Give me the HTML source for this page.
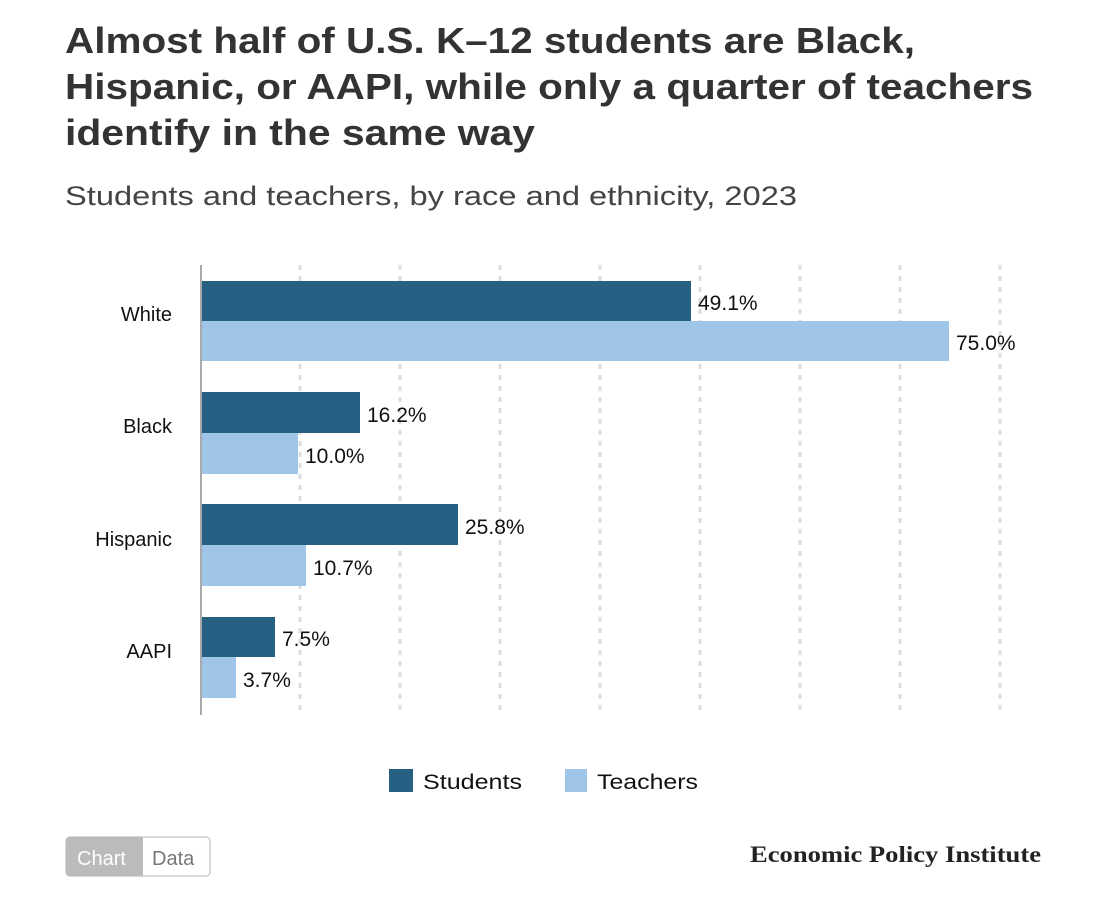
<!DOCTYPE html>
<html><head><meta charset="utf-8"><style>
body{margin:0;background:#fff;width:1113px;height:897px;overflow:hidden;font-family:"Liberation Sans",sans-serif;}
</style></head><body>
<svg width="1113" height="897" xmlns="http://www.w3.org/2000/svg" font-family="Liberation Sans, sans-serif">
<g font-weight="bold" font-size="36" fill="#333">
<text x="65" y="53" textLength="850" lengthAdjust="spacingAndGlyphs">Almost half of U.S. K–12 students are Black,</text>
<text x="65" y="99" textLength="968" lengthAdjust="spacingAndGlyphs">Hispanic, or AAPI, while only a quarter of teachers</text>
<text x="65" y="145" textLength="470" lengthAdjust="spacingAndGlyphs">identify in the same way</text>
</g>
<text x="65" y="205" font-size="27" fill="#444" textLength="732" lengthAdjust="spacingAndGlyphs">Students and teachers, by race and ethnicity, 2023</text>
<g stroke="#ddd" stroke-width="3" stroke-dasharray="5,6">
<line x1="300" y1="265" x2="300" y2="715"/><line x1="400" y1="265" x2="400" y2="715"/>
<line x1="500" y1="265" x2="500" y2="715"/><line x1="600" y1="265" x2="600" y2="715"/>
<line x1="700" y1="265" x2="700" y2="715"/><line x1="800" y1="265" x2="800" y2="715"/>
<line x1="900" y1="265" x2="900" y2="715"/><line x1="1000" y1="265" x2="1000" y2="715"/>
</g>
<g fill="#266183">
<rect x="201" y="281" width="490" height="40"/>
<rect x="201" y="392" width="159" height="41"/>
<rect x="201" y="504" width="257" height="41"/>
<rect x="201" y="617" width="74" height="40"/>
</g>
<g fill="#9fc5e8">
<rect x="201" y="321" width="748" height="40"/>
<rect x="201" y="433" width="97" height="41"/>
<rect x="201" y="545" width="105" height="41"/>
<rect x="201" y="657" width="35" height="41"/>
</g>
<line x1="201" y1="265" x2="201" y2="715" stroke="#aaa" stroke-width="2"/>
<g font-size="21" fill="#111">
<text x="698" y="310">49.1%</text><text x="956" y="350">75.0%</text>
<text x="367" y="422">16.2%</text><text x="305" y="463">10.0%</text>
<text x="465" y="534">25.8%</text><text x="313" y="575">10.7%</text>
<text x="282" y="646">7.5%</text><text x="243" y="687">3.7%</text>
</g>
<g font-size="20" fill="#111" text-anchor="end">
<text x="172" y="321">White</text><text x="172" y="433">Black</text>
<text x="172" y="546">Hispanic</text><text x="172" y="658">AAPI</text>
</g>
<rect x="389" y="769" width="24" height="23" fill="#266183"/>
<text x="423" y="789" font-size="21" fill="#111" textLength="99" lengthAdjust="spacingAndGlyphs">Students</text>
<rect x="565" y="769" width="22" height="23" fill="#9fc5e8"/>
<text x="597" y="789" font-size="21" fill="#111" textLength="101" lengthAdjust="spacingAndGlyphs">Teachers</text>
<rect x="66" y="837" width="144" height="39" rx="4" fill="#fff" stroke="#ccc" stroke-width="1.5"/>
<path d="M70,837 H143 V876 H70 a4,4 0 0 1 -4,-4 V841 a4,4 0 0 1 4,-4z" fill="#bbb"/>
<text x="77" y="865" font-size="20" fill="#fff">Chart</text>
<text x="152" y="865" font-size="20" fill="#777">Data</text>
<text x="750" y="862" font-size="23" font-weight="bold" font-family="Liberation Serif, serif" fill="#222" textLength="291" lengthAdjust="spacingAndGlyphs">Economic Policy Institute</text>
</svg>
</body></html>
